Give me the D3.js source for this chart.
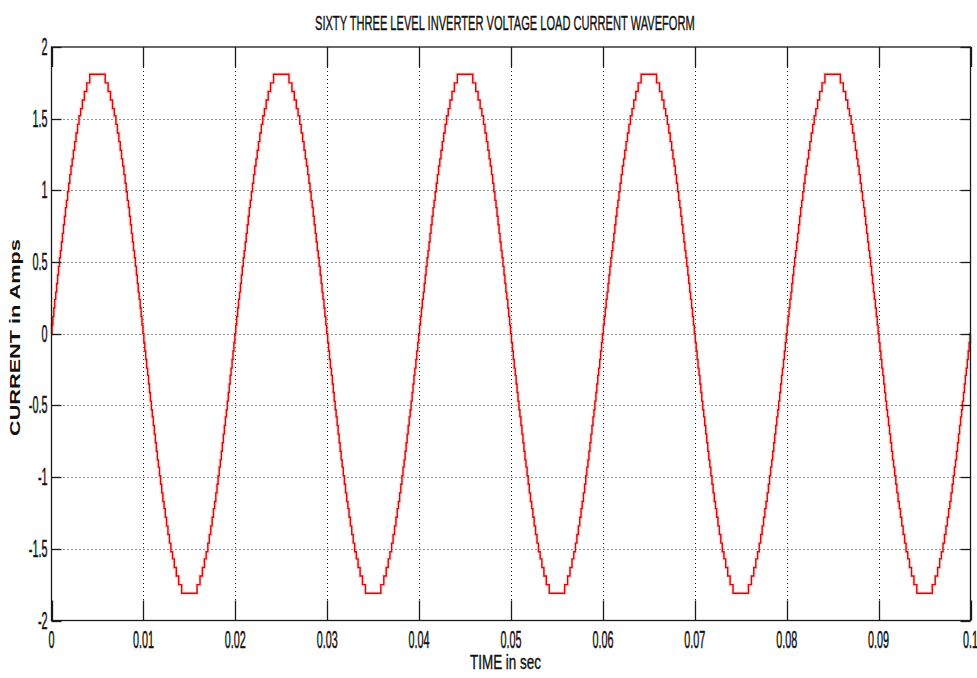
<!DOCTYPE html>
<html>
<head>
<meta charset="utf-8">
<script src="https://cdn.jsdelivr.net/npm/d3@7/dist/d3.min.js"></script>
<style>
  html, body { margin: 0; padding: 0; background: #fff; }
  svg text { font-family: 'Liberation Sans', Arial, sans-serif; fill: #111; }
</style>
</head>
<body>
<div id="chart"></div>
<script>
'use strict';

// chart texts
var titleText = 'SIXTY THREE LEVEL INVERTER VOLTAGE LOAD CURRENT WAVEFORM';
var xLabelText = 'TIME in sec';
var yLabelText = 'CURRENT in Amps';

// ticks
var xTicks = [0, 0.01, 0.02, 0.03, 0.04, 0.05, 0.06, 0.07, 0.08, 0.09, 0.1];
var xTickLabels = ['0', '0.01', '0.02', '0.03', '0.04', '0.05', '0.06', '0.07', '0.08', '0.09', '0.1'];
var yTicks = [2, 1.5, 1, 0.5, 0, -0.5, -1, -1.5, -2];
var yTickLabels = ['2', '1.5', '1', '0.5', '0', '-0.5', '-1', '-1.5', '-2'];

// staircase: switching instant (ms) and level (A)
var stepTimesMs = [0.05, 0.15, 0.25, 0.35, 0.46, 0.56, 0.66, 0.76, 0.87, 0.97,
  1.08, 1.19, 1.30, 1.41, 1.52, 1.63, 1.75, 1.87, 1.99, 2.12,
  2.25, 2.38, 2.52, 2.67, 2.83, 2.99, 3.17, 3.36, 3.58, 3.84, 4.16];
var stepLevels = [0.06, 0.12, 0.18, 0.24, 0.29, 0.35, 0.41, 0.47, 0.53, 0.58,
  0.64, 0.70, 0.76, 0.82, 0.88, 0.93, 0.99, 1.05, 1.11, 1.17,
  1.22, 1.28, 1.34, 1.40, 1.46, 1.52, 1.57, 1.63, 1.69, 1.75, 1.81];
var halfPeriodMs = 10;
var cycles = 5;

var width = 977;
var height = 678;
var margin = { left: 51.5, right: 6, top: 47, bottom: 57.5 };

var lineColor = '#d10a0a';

// build the full waveform from the quarter-cycle staircase (mirror + sign flip)
function halfWave(offsetMs, sign) {
  var pts = [[offsetMs, 0]];
  for (var k = 0; k < stepTimesMs.length; k++) {
    pts.push([offsetMs + stepTimesMs[k], sign * stepLevels[k]]);
  }
  for (var j = stepTimesMs.length - 1; j >= 0; j--) {
    pts.push([offsetMs + halfPeriodMs - stepTimesMs[j], j > 0 ? sign * stepLevels[j - 1] : 0]);
  }
  return pts;
}
var wave = [];
for (var c = 0; c < cycles; c++) {
  wave = wave.concat(halfWave(c * 2 * halfPeriodMs, 1));
  wave = wave.concat(halfWave(c * 2 * halfPeriodMs + halfPeriodMs, -1));
}
wave.push([cycles * 2 * halfPeriodMs, 0]);

var svg = d3.select('#chart').append('svg')
  .attr('width', width).attr('height', height);

var x = d3.scaleLinear().domain([0, 0.1]).range([margin.left, width - margin.right - 0.5]);
var y = d3.scaleLinear().domain([-2, 2]).range([height - margin.bottom, margin.top]);

var x0 = x.range()[0], x1 = x.range()[1];
var y0 = y.range()[0], y1 = y.range()[1];

// dotted grid
var grid = svg.append('g').attr('stroke', '#222').attr('stroke-width', 1)
  .attr('stroke-dasharray', '1,3');
grid.selectAll('.gx').data(xTicks.slice(1, -1)).enter().append('line')
  .attr('x1', function (d) { return Math.round(x(d)) + 0.5; })
  .attr('x2', function (d) { return Math.round(x(d)) + 0.5; })
  .attr('y1', y1).attr('y2', y0);
grid.selectAll('.gy').data(yTicks.slice(1, -1)).enter().append('line')
  .attr('y1', function (d) { return Math.round(y(d)) + 0.5; })
  .attr('y2', function (d) { return Math.round(y(d)) + 0.5; })
  .attr('x1', x0).attr('x2', x1);

// waveform, with a faint halo like the source image
var line = d3.line()
  .x(function (d) { return x(d[0] / 1000); })
  .y(function (d) { return y(d[1]); })
  .curve(d3.curveStepAfter);
svg.append('path').datum(wave)
  .attr('fill', 'none').attr('stroke', '#f4b8b8').attr('stroke-width', 4).attr('opacity', 0.45)
  .attr('d', line);
svg.append('path').datum(wave)
  .attr('fill', 'none').attr('stroke', lineColor).attr('stroke-width', 1.4)
  .attr('d', line);

// box and ticks
var axes = svg.append('g').attr('stroke', '#1a1a1a').attr('stroke-width', 1.3).attr('fill', 'none');
axes.append('rect').attr('x', x0).attr('y', y1).attr('width', x1 - x0).attr('height', y0 - y1);
xTicks.forEach(function (d) {
  var px = Math.round(x(d)) + 0.5;
  axes.append('line').attr('x1', px).attr('x2', px).attr('y1', y0).attr('y2', y0 - 20);
  axes.append('line').attr('x1', px).attr('x2', px).attr('y1', y1).attr('y2', y1 + 20);
});
yTicks.forEach(function (d) {
  var py = Math.round(y(d)) + 0.5;
  axes.append('line').attr('y1', py).attr('y2', py).attr('x1', x0).attr('x2', x0 + 10);
  axes.append('line').attr('y1', py).attr('y2', py).attr('x1', x1).attr('x2', x1 - 10);
});

// tick labels (tall, narrow glyphs)
svg.selectAll('.xl').data(xTicks).enter().append('text')
  .attr('transform', function (d) { return 'translate(' + x(d) + ',648) scale(0.47,1)'; })
  .attr('text-anchor', 'middle').attr('font-size', 23)
  .attr('stroke', '#111').attr('stroke-width', 0.5)
  .text(function (d, i) { return xTickLabels[i]; });
svg.selectAll('.yl').data(yTicks).enter().append('text')
  .attr('transform', function (d) { return 'translate(47.5,' + (y(d) + 8) + ') scale(0.47,1)'; })
  .attr('text-anchor', 'end').attr('font-size', 23)
  .attr('stroke', '#111').attr('stroke-width', 0.5)
  .text(function (d, i) { return yTickLabels[i]; });

// squeeze a text horizontally so it spans the wanted width
function squeezed(g, text, size, weight, wantWidth) {
  var t = g.append('text').attr('font-size', size).attr('font-weight', weight).text(text);
  var w = t.node().getComputedTextLength();
  t.attr('transform', 'scale(' + (wantWidth / w) + ',1)');
  return t;
}

// title and axis labels
squeezed(svg.append('g').attr('transform', 'translate(315,30)'), titleText, 21, 'normal', 380)
  .attr('stroke', '#111').attr('stroke-width', 0.4);
squeezed(svg.append('g').attr('transform', 'translate(470,669)'), xLabelText, 20, 'normal', 71)
  .attr('stroke', '#111').attr('stroke-width', 0.4);
squeezed(svg.append('g').attr('transform', 'translate(20,436) rotate(-90)'), yLabelText, 14, 'bold', 197);
</script>
</body>
</html>
